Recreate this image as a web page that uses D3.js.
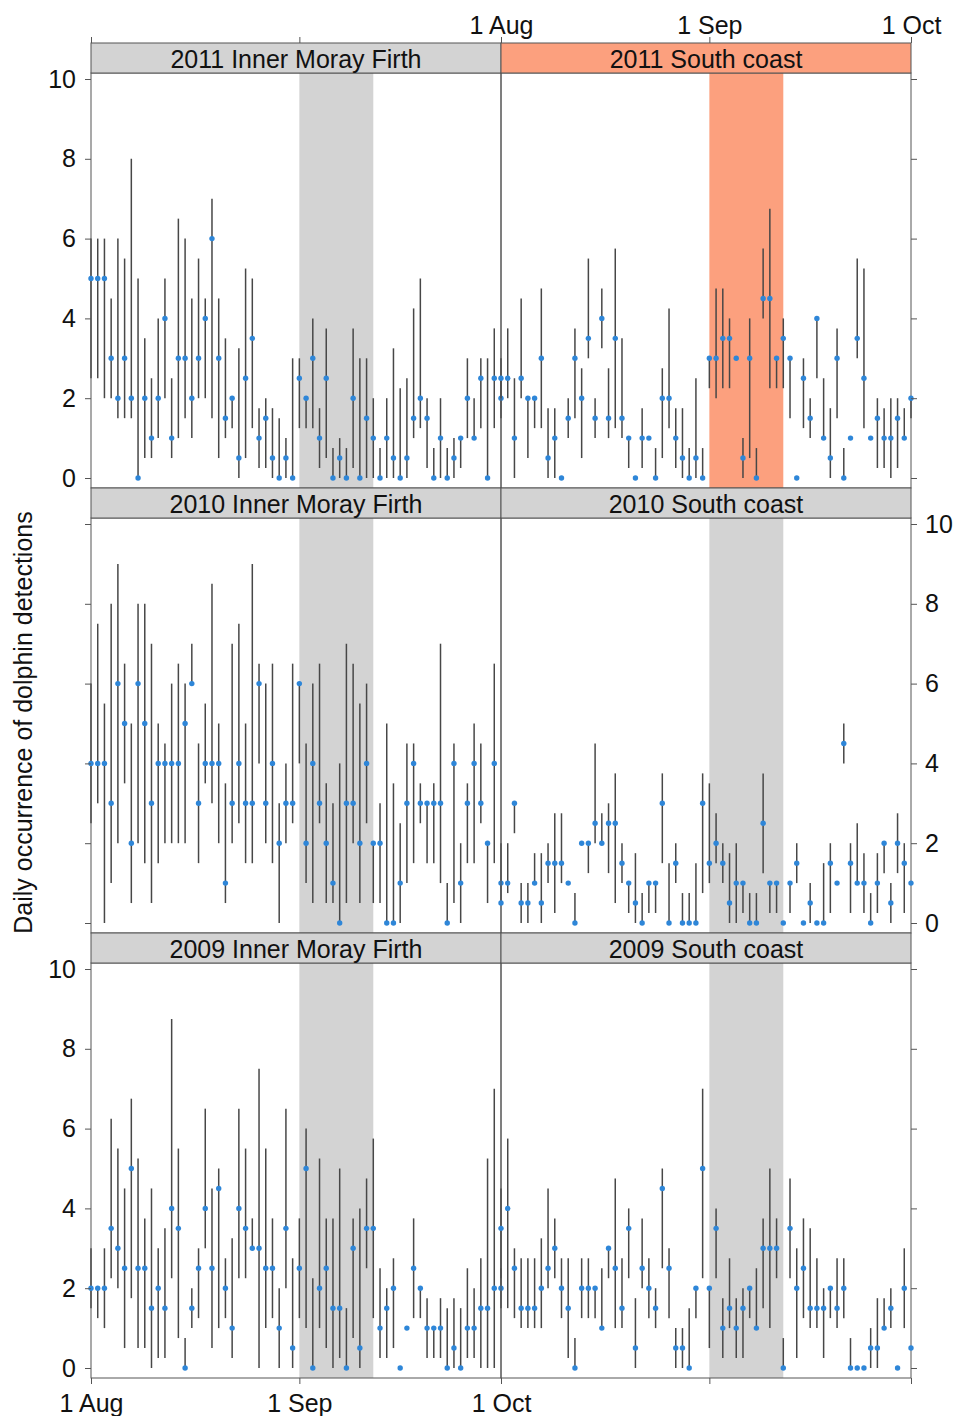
<!DOCTYPE html>
<html>
<head>
<meta charset="utf-8">
<script src="https://cdn.jsdelivr.net/npm/d3@7"></script>
<style>
  body { margin: 0; background: #fff; }
  svg { display: block; font-family: "Liberation Sans", Arial, sans-serif; }
</style>
</head>
<body>
<svg id="chart" width="956" height="1416"></svg>
<script>
// Daily occurrence of dolphin detections (mean with range), 1 Aug – 1 Oct
const years = [2011, 2010, 2009];
const sites = ["Inner Moray Firth", "South coast"];
const xTickLabels = ["1 Aug", "1 Sep", "1 Oct"];
const yTicks = [0, 2, 4, 6, 8, 10];
const yAxisTitle = "Daily occurrence of dolphin detections";

// 2011 Inner Moray Firth
const imf2011Mean = [5,5,5,3,2,3,2,0,2,1, 2,4,1,3,3,2,3,4,6,3, 1.5,2,0.5,2.5,3.5,1,1.5,0.5,0,0.5, 0,2.5,2,3,1,2.5,0,0.5,0,2, 0,1.5,1,0,1,0.5,0,0.5,1.5,2, 1.5,0,1,0,0.5,1,2,1,2.5,0, 2.5,2];
const imf2011Lo   = [2.5,2.5,2,2,1.5,1.5,1.5,0,0.5,0.5, 1,2,0.5,1,1.5,1,2,2,1.5,0.5, 1,1.25,0,0.5,1.25,0.25,0.25,0,0,0, 0,1.25,1.25,1.25,0.25,0.5,0,0,0,0.25, 0,0,0,0,0,0,0,0,1,1.25, 0.25,0,0,0,0,0.25,1,1,1.25,0, 1.25,1.5];
const imf2011Hi   = [6,6,6,4.5,6,5.5,8,5,3.5,2.5, 4,5,2.5,6.5,6,4.5,5.5,4.5,7,4.5, 3.5,2,3.25,5.25,5,1.75,2,1.75,1.5,1, 3,3,2,4,1.75,3.75,0.75,1,0.75,3.75, 3,3,2,0.75,2,3.25,2.25,2.5,4.25,5, 2,0.75,2,0.75,1,1,3,2,3,3, 3.75,2.5];

// 2011 South coast
const sc2011Mean = [2.5,2.5,1,2.5,2,2,3,0.5,1,0, 1.5,3,2,3.5,1.5,4,1.5,3.5,1.5,1, 0,1,1,0,2,2,1,0.5,0,0.5, 0,3,3,3.5,3.5,3,0.5,3,0,4.5, 4.5,3,3.5,3,0,2.5,1.5,4,1,0.5, 3,0,1,3.5,2.5,1,1.5,1,1,1.5, 1,2];
const sc2011Lo   = [2,2,0,2,0.5,1.25,1.25,0,0,0, 1,1.5,0.5,3,1,3.25,1,1.25,1,0.25, 0,0.25,1,0,0.5,1.25,0.25,0,0,0, 0,2.25,2,2.25,2.25,3,0,0.5,0,4, 2.25,2.25,2.25,1.5,0,1.25,1,2.5,1,0, 1.5,0,1,3,1.25,1,0.25,0.25,0,0.25, 1,1.5];
const sc2011Hi   = [3,3.75,2.5,4.5,2,2,4.75,1.75,1.75,0, 2,3.75,2.75,5.5,2,4.75,2.75,5.75,3.5,1, 0,1.75,1,0.75,2.75,4.25,1.75,1.75,0.75,2.5, 0.75,3,4.75,4.75,4,3,1,4,0.75,5.75, 6.75,3,4,3,0,3,2,4,2.5,1.75, 3.75,0.75,1,5.5,5.25,1,2,1.75,2,2, 1.75,2];

// 2010 Inner Moray Firth
const imf2010Mean = [4,4,4,3,6,5,2,6,5,3, 4,4,4,4,5,6,3,4,4,4, 1,3,4,3,3,6,3,4,2,3, 3,6,2,4,3,2,1,0,3,3, 2,4,2,2,0,0,1,3,4,3, 3,3,3,0,4,1,3,4,3,2, 4,1];
const imf2010Lo   = [2.5,3,0,1,2,3.5,0.5,2,1.5,0.5, 1.5,2,2,2,2,6,1.5,3.5,3,2, 0.5,2,2.5,1.5,1.5,4,2,1.5,0,2, 2.5,4,1,0.5,2.5,0.5,0.5,0,0.5,2, 0.5,2.5,0.5,0.5,0,0,0,1,1.5,2.5, 1.5,1.5,1,0,0.5,0,1.5,1.5,2.5,0.5, 1.5,0.5];
const imf2010Hi   = [6,7.5,5.5,8,9,6.5,5,8,8,7, 5,4.5,6,6.5,6,7,4.5,5.5,8.5,5, 3.5,7,7.5,5,9,6.5,6,6.5,3,4, 6.5,6,4.5,6,6.5,3.5,3,4,7,6.5, 5.5,6,2,3,5,3.5,2.5,4.5,4.5,3.5, 3,3.5,7,1,4.5,2,3.5,5,4.5,2, 6.5,2];

// 2010 South coast
const sc2010Mean = [0.5,1,3,0.5,0.5,1,0.5,1.5,1.5,1.5, 1,0,2,2,2.5,2,2.5,2.5,1.5,1, 0.5,0,1,1,3,0,1.5,0,0,0, 3,1.5,2,1.5,0.5,1,1,0,0,2.5, 1,1,0,1,1.5,0,0.5,0,0,1.5, 1,4.5,1.5,1,1,0,1,2,0.5,2, 1.5,1];
const sc2010Lo   = [0.5,0.75,2.25,0,0,1,0,1,0.25,1, 1,0,2,1.25,2,2,1.25,0.5,1,0.25, 0,0,0.25,0.25,1.5,0,1,0,0,0, 0.75,1,1.5,1,0,0,0.25,0,0,1.25, 0.25,0.25,0,0.25,1,0,0,0,0,0.25, 1,4,0.25,1,0.25,0,0.25,1.25,0,1.25, 0.25,1];
const sc2010Hi   = [0.5,2,3,1,1,1.75,1.75,2,2.75,2.75, 1,0.75,2,2,4.5,2.75,3,3.75,2,1, 1.75,0.75,1,1,3.75,1.5,2,0.75,0.75,1.5, 3.75,3.5,2.75,2,1.75,2,1,0.75,0.75,3.75, 1,1,0,1,2,0,1,0,1.5,2, 1,5,2,2.5,1.75,0.75,1.75,2,1,2.75, 2,1];

// 2009 Inner Moray Firth
const imf2009Mean = [2,2,2,3.5,3,2.5,5,2.5,2.5,1.5, 2,1.5,4,3.5,0,1.5,2.5,4,2.5,4.5, 2,1,4,3.5,3,3,2.5,2.5,1,3.5, 0.5,2.5,5,0,2,2.5,1.5,1.5,0,3, 0.5,3.5,3.5,1,1.5,2,0,1,2.5,2, 1,1,1,0,0.5,0,1,1,1.5,1.5, 2,2];
const imf2009Lo   = [1.5,1.25,1,2.25,2,0.5,1.75,0.5,0.5,0, 0.25,0.25,2.25,0.75,0,1,1.25,3,0.5,1, 1.25,0.25,2.25,2.25,3,0,1,1.25,0,2, 0,1.25,1,0,1,0.5,0,0.25,0,0.75, 0,2.5,1.25,0.25,0.25,0.5,0,1,1.25,1.25, 0.25,0.25,0.25,0,0,0,0.25,0.25,0,0, 0,1.5];
const imf2009Hi   = [3,2,3,6.25,5.5,4.5,6.75,5.25,3.75,4.5, 3,3.5,8.75,5.5,0.75,2,3,6.5,4.5,5, 2.75,3.25,6.5,5.5,3.75,7.5,5.5,3.75,2,6.5, 2.75,3.75,6,2.25,5.25,3.75,3.75,5,1.5,3.75, 4,4.75,5.75,2.5,2,2.75,0,1,3.75,2, 1.75,1,1.75,1.5,1.75,1.5,2.5,2,2.75,5.25, 7,2.5];

// 2009 South coast
const sc2009Mean = [3.5,4,2.5,1.5,1.5,1.5,2,2.5,3,2, 1.5,0,2,2,2,1,3,2.5,1.5,3.5, 0.5,2.5,2,1.5,4.5,2.5,0.5,0.5,0,2, 5,2,3.5,1,1.5,1,1.5,2,1,3, 3,3,0,3.5,2,2.5,1.5,1.5,1.5,2, 1.5,2,0,0,0,0.5,0.5,1,1.5,0, 2,0.5];
const sc2009Lo   = [2.25,1.5,1.25,1,1,1,1,2,2.25,1.25, 0.25,0,1.25,1.25,1.25,1,2.25,1,1,2.25, 0,2,1.25,1,2.5,1.25,0,0,0,1.25, 2.25,0.5,2.25,0.25,1,0.25,0.25,1.25,1,1.5, 1,2.25,0,2.25,0.25,1.25,1,1,0.25,1.25, 1,1.25,0,0,0,0,0,1,1,0, 1,0.5];
const sc2009Hi   = [4.5,5.75,3,2.75,2.75,2.75,3.25,4.5,3.75,2.75, 2.75,0.75,2.75,2.75,2,2.5,3,4.75,2.75,4, 1.75,3.75,2.75,2,5,3,1,1,1.5,2, 7,2,4,1.75,2.75,1.75,2,2,2.5,3.75, 5,3.75,0.75,4.75,3,3.75,3.5,2.75,2,2, 2.75,2.75,0.75,0,0,1,1.75,1.75,2,0, 3,0.5];

// panel table: row = year, col = site
const panels = [
  { row: 0, col: 0, year: 2011, site: sites[0], mean: imf2011Mean, lo: imf2011Lo, hi: imf2011Hi, highlight: false },
  { row: 0, col: 1, year: 2011, site: sites[1], mean: sc2011Mean,  lo: sc2011Lo,  hi: sc2011Hi,  highlight: true  },
  { row: 1, col: 0, year: 2010, site: sites[0], mean: imf2010Mean, lo: imf2010Lo, hi: imf2010Hi, highlight: false },
  { row: 1, col: 1, year: 2010, site: sites[1], mean: sc2010Mean,  lo: sc2010Lo,  hi: sc2010Hi,  highlight: false },
  { row: 2, col: 0, year: 2009, site: sites[0], mean: imf2009Mean, lo: imf2009Lo, hi: imf2009Hi, highlight: false },
  { row: 2, col: 1, year: 2009, site: sites[1], mean: sc2009Mean,  lo: sc2009Lo,  hi: sc2009Hi,  highlight: false }
];

// layout
const colLeft = [91, 501];
const panelW = 410;
const rowTop = [73, 518, 963];
const panelH = 415;
const stripH = 30;
const grey = "#d3d3d3";
const orange = "#fca07e";
const frame = "#555";
const fontSize = 25;

const svg = d3.select("#chart");

function xScaleFor(year, col) {
  return d3.scaleUtc()
    .domain([new Date(Date.UTC(year, 7, 1)), new Date(Date.UTC(year, 9, 1))])
    .range([colLeft[col], colLeft[col] + panelW]);
}
function yScaleFor(row) {
  const top = rowTop[row];
  return d3.scaleLinear().domain([0, 10]).range([top + 405, top + 6]);
}
function tickDates(year) {
  return [new Date(Date.UTC(year, 7, 1)), new Date(Date.UTC(year, 8, 1)), new Date(Date.UTC(year, 9, 1))];
}

panels.forEach(p => {
  const x = xScaleFor(p.year, p.col);
  const y = yScaleFor(p.row);
  const top = rowTop[p.row];
  const g = svg.append("g");

  // survey period band, 1–12 Sep
  const b0 = x(new Date(Date.UTC(p.year, 8, 1)));
  const b1 = x(new Date(Date.UTC(p.year, 8, 12)));
  g.append("rect")
    .attr("x", b0).attr("y", top)
    .attr("width", b1 - b0).attr("height", panelH)
    .attr("fill", p.highlight ? orange : grey);

  const start = new Date(Date.UTC(p.year, 7, 1));
  const rows = p.mean.map((m, i) => ({
    date: d3.utcDay.offset(start, i), mean: m, lo: p.lo[i], hi: p.hi[i]
  }));

  // error bars
  g.selectAll("line.bar")
    .data(rows.filter(d => d.hi > d.lo))
    .join("line")
    .attr("class", "bar")
    .attr("x1", d => x(d.date)).attr("x2", d => x(d.date))
    .attr("y1", d => y(d.lo)).attr("y2", d => y(d.hi))
    .attr("stroke", "#474747").attr("stroke-width", 1.5);

  // panel frame
  g.append("rect")
    .attr("x", colLeft[p.col]).attr("y", top)
    .attr("width", panelW).attr("height", panelH)
    .attr("fill", "none").attr("stroke", frame).attr("stroke-width", 1);

  // strip
  g.append("rect")
    .attr("x", colLeft[p.col]).attr("y", top - stripH)
    .attr("width", panelW).attr("height", stripH)
    .attr("fill", p.highlight ? orange : grey)
    .attr("stroke", frame).attr("stroke-width", 1);
  g.append("text")
    .attr("x", colLeft[p.col] + panelW / 2).attr("y", top - 5)
    .attr("text-anchor", "middle")
    .attr("font-size", fontSize).attr("fill", "#111")
    .text(`${p.year} ${p.site}`);

  // daily means
  g.selectAll("circle.pt")
    .data(rows)
    .join("circle")
    .attr("class", "pt")
    .attr("cx", d => x(d.date)).attr("cy", d => y(d.mean))
    .attr("r", 2.7)
    .attr("fill", "#2e86d8");
});

// y axes: labels alternate left (rows 1, 3) and right (row 2)
function styleAxis(sel) {
  sel.select(".domain").remove();
  sel.selectAll(".tick line").attr("stroke", frame);
  sel.selectAll(".tick text").attr("font-size", fontSize).attr("fill", "#111")
    .attr("font-family", "\"Liberation Sans\", Arial, sans-serif");
}
[0, 1, 2].forEach(row => {
  const y = yScaleFor(row);
  const leftLabels = row !== 1;
  svg.append("g")
    .attr("transform", `translate(${colLeft[0]},0)`)
    .call(d3.axisLeft(y).tickValues(yTicks).tickSize(6).tickPadding(9)
      .tickFormat(leftLabels ? d3.format("d") : () => ""))
    .call(styleAxis);
  svg.append("g")
    .attr("transform", `translate(${colLeft[1] + panelW},0)`)
    .call(d3.axisRight(y).tickValues(yTicks).tickSize(6).tickPadding(8)
      .tickFormat(leftLabels ? () => "" : d3.format("d")))
    .call(styleAxis);
});

// x axes: labels on top for the right column, bottom for the left column
[0, 1].forEach(col => {
  const xTop = xScaleFor(years[0], col);
  svg.append("g")
    .attr("transform", `translate(0,${rowTop[0] - stripH})`)
    .call(d3.axisTop(xTop).tickValues(tickDates(years[0])).tickSize(6).tickPadding(3)
      .tickFormat((d, i) => col === 1 ? xTickLabels[i] : ""))
    .call(styleAxis);
  const xBot = xScaleFor(years[2], col);
  svg.append("g")
    .attr("transform", `translate(0,${rowTop[2] + panelH})`)
    .call(d3.axisBottom(xBot).tickValues(tickDates(years[2])).tickSize(6).tickPadding(10)
      .tickFormat((d, i) => col === 0 ? xTickLabels[i] : ""))
    .call(styleAxis);
});

// y axis title
svg.append("text")
  .attr("transform", `translate(32,${(rowTop[0] + rowTop[2] + panelH) / 2 - 3}) rotate(-90)`)
  .attr("text-anchor", "middle")
  .attr("font-size", 25).attr("fill", "#111")
  .text(yAxisTitle);
</script>
</body>
</html>
